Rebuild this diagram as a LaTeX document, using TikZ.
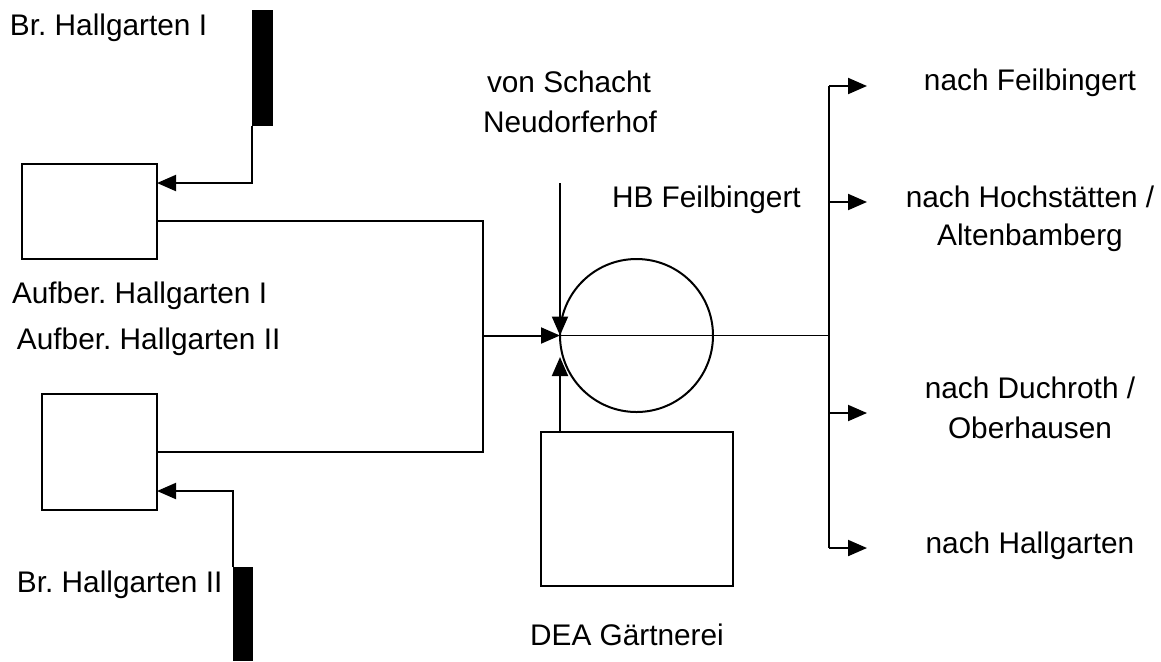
\documentclass[tikz,border=0pt]{standalone}
\usepackage{fontspec}
\setmainfont{Liberation Sans}
\usetikzlibrary{arrows.meta}
\frenchspacing
\begin{document}
\begin{tikzpicture}[x=0.5pt,y=-0.5pt,
  lbl/.style={inner sep=0pt, outer sep=0pt, font=\fontsize{14.9}{17}\selectfont},
  box/.style={draw, line width=1pt, inner sep=0pt, outer sep=0pt},
  conn/.style={line width=1pt},
  thinconn/.style={line width=0.8pt},
  arr/.style={conn, -{Triangle[length=9.5pt,width=8pt]}},
  well/.style={fill=black, draw=none, inner sep=0pt, outer sep=0pt}]
\useasboundingbox (0,0) rectangle (1161,661);

% wells
\node[well, minimum width=10.5pt, minimum height=58pt] (w1) at (262.5,68) {};
\node[well, minimum width=10pt, minimum height=47pt] (w2) at (243,614) {};

% boxes
\node[box, minimum width=67.5pt, minimum height=47.5pt] (b1) at (89.5,211.5) {};
\node[box, minimum width=57.5pt, minimum height=58pt] (b2) at (99.5,452) {};
\node[box, minimum width=96pt, minimum height=77pt] (dea) at (637,509) {};
\node[box, circle, minimum size=76.5pt] (hb) at (636.5,335.5) {};

% coordinates
\coordinate (a1) at (252,183);
\coordinate (a2) at (233,491);
\coordinate (o1) at (483,221);
\coordinate (o2) at (483,452);
\coordinate (m1) at (483,335.5);
\coordinate (t1) at (560,183);
\coordinate (t2) at (560,357);
\coordinate (r0) at (829,335.5);
\coordinate (r1) at (829,86);
\coordinate (r2) at (829,202);
\coordinate (r3) at (829,413);
\coordinate (r4) at (829,548);
\coordinate (e1) at (867,86);
\coordinate (e2) at (867,202);
\coordinate (e3) at (867,413);
\coordinate (e4) at (867,548);

% connectors
\draw[arr] (w1.south west) -- (a1) -- (b1.east |- a1);
\draw[arr] (w2.north west) -- (a2) -- (b2.east |- a2);
\draw[conn] (b1.east |- o1) -- (o1) -- (o2) -- (b2.east |- o2);
\draw[arr] (m1) -- (hb.west);
\draw[arr] (t1) -- (hb.west);
\draw[arr] (dea.north -| t1) -- (t2);
\draw[thinconn] (hb.west) -- (hb.east) -- (r0);
\draw[conn] (r1) -- (r4);
\draw[arr] (r1) -- (e1);
\draw[arr] (r2) -- (e2);
\draw[arr] (r3) -- (e3);
\draw[arr] (r4) -- (e4);

% labels
\node[lbl, anchor=base west] (l1) at (10,35) {Br. Hallgarten I};
\node[lbl, anchor=base west] (l2) at (12,303) {Aufber. Hallgarten I};
\node[lbl, anchor=base west] (l3) at (17,349) {Aufber. Hallgarten II};
\node[lbl, anchor=base west] (l4) at (17,592) {Br. Hallgarten II};
\node[lbl, anchor=base] (l5) at (569,92) {von Schacht};
\node[lbl, anchor=base] (l6) at (570,132) {Neudorferhof};
\node[lbl, anchor=base west] (l7) at (612,207) {HB Feilbingert};
\node[lbl, anchor=base] (l8) at (627,645) {DEA Gärtnerei};
\node[lbl, anchor=base] (l9) at (1030,90) {nach Feilbingert};
\node[lbl, anchor=base] (l10) at (1030,207) {nach Hochstätten /};
\node[lbl, anchor=base] (l11) at (1030,245) {Altenbamberg};
\node[lbl, anchor=base] (l12) at (1030,398) {nach Duchroth /};
\node[lbl, anchor=base] (l13) at (1030,438) {Oberhausen};
\node[lbl, anchor=base] (l14) at (1030,553) {nach Hallgarten};
\end{tikzpicture}
\end{document}
